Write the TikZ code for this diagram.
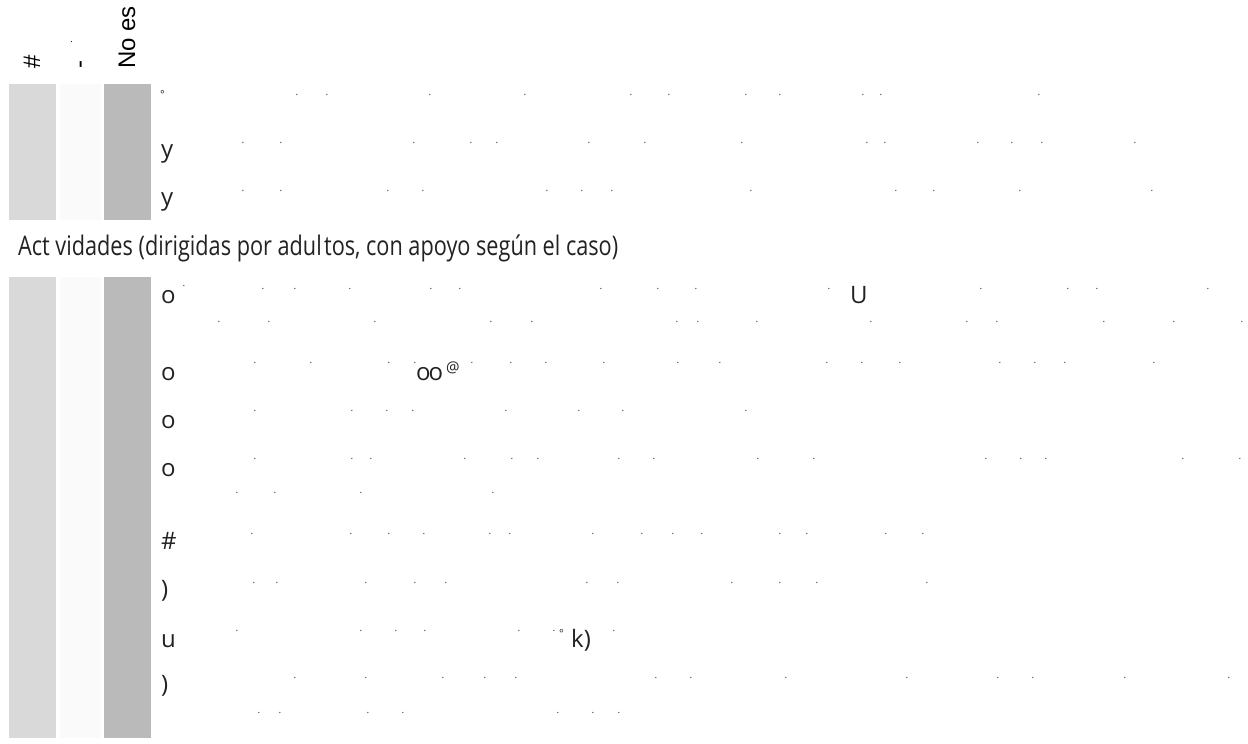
\documentclass[tikz,border=0pt]{standalone}
\usepackage{fontspec}
\usepackage{graphicx}
\setmainfont{Open Sans}
\newfontfamily\hdrfont{Liberation Sans}
\definecolor{barA}{HTML}{D9D9D9}
\definecolor{barB}{HTML}{FAFAFA}
\definecolor{barC}{HTML}{BABABA}
\definecolor{txt}{HTML}{222222}
\definecolor{dotc}{HTML}{333333}
\tikzset{
  hdr/.style={font=\hdrfont\fontsize{24}{24}\selectfont, inner sep=0pt, rotate=90, anchor=base west, text=black},
  hdrsmall/.style={font=\hdrfont\fontsize{10}{10}\selectfont, inner sep=0pt, rotate=90, anchor=base west, text=black},
  body/.style={font=\fontsize{24}{24}\selectfont, inner sep=0pt, anchor=base west, text=txt},
  small/.style={font=\fontsize{11}{11}\selectfont, inner sep=0pt, anchor=base west, text=txt},
  dotst/.style={font=\fontsize{10}{10}\selectfont, inner sep=0pt, anchor=base, text=dotc},
  heading/.style={font=\fontsize{27}{27}\selectfont, inner sep=0pt, anchor=base west, text=txt},
  barone/.style={fill=barA, draw=none},
  bartwo/.style={fill=barB, draw=none},
  barthree/.style={fill=barC, draw=none}
}
\newcommand\dotline[3]{\foreach \xx [count=\ii] in {#3} {\node[dotst, name=#1-\ii] at (\xx,#2+1) {.};}}
\begin{document}
\begin{tikzpicture}[x=1pt,y=-1pt]
\fill[white] (0,0) rectangle (1248,744);
\useasboundingbox (0,0) rectangle (1248,744);
% header
\node[hdr] (hHash) at (40,69) {\#};
\node[hdrsmall] (hDot) at (72,44) {.};
\node[hdr] (hDash) at (87,69) {-};
\node[hdr] (hNoes) at (135,69) {No es};
% block 1 bars
\path[barone] (9,84) rectangle (56,220);
\path[bartwo] (60,84) rectangle (101,220);
\path[barthree] (104,84) rectangle (151,220);
% block 1 rows
\node[small] (r1a) at (160,98) {°};
\dotline{r1}{94}{297,327,430,525,631,669,746,780,863,881,1039}
\node[body] (r2a) at (161,157) {y};
\dotline{r2}{142}{243,281,414,471,497,589,645,742,867,885,978,1012,1042,1135}
\node[body] (r3a) at (161,205) {y};
\dotline{r3}{190}{243,281,388,423,547,582,612,751,896,934,1020,1152}
% heading
\node[heading] (head) at (18,255) {\resizebox{600pt}{\height}{Act vidades (dirigidas por adul\kern3pt tos, con apoyo según el caso)}};
% block 2 bars
\path[barone] (9,277) rectangle (56,738);
\path[bartwo] (60,277) rectangle (101,738);
\path[barthree] (104,277) rectangle (151,738);
% block 2 rows
\node[body] (o1) at (161,303) {o};
\dotline{o1}{285}{184}
\dotline{o1b}{288}{263,295,350,431,460,601,658,696,829,981,1068,1097,1208}
\node[body] (o1U) at (850,303) {U};
\dotline{o1c}{321}{219,269,375,491,532,677,698,757,871,967,997,1104,1174,1242}
\node[body] (o2) at (161,380) {o};
\dotline{o2}{362}{255,311,389,415,472,511,546,604,678,720,827,862,900,1000,1035,1065,1154}
\node[body] (o2oo) at (416,380) {o\kern-2pt o};
\node[small, font=\fontsize{15}{15}\selectfont] (o2at) at (446,372) {@};
\node[body] (o3) at (161,428) {o};
\dotline{o3}{410}{255,352,387,413,506,579,623,746}
\node[body] (o4) at (161,476) {o};
\dotline{o4}{458}{255,352,371,465,512,538,619,654,758,814,986,1021,1046,1183,1240}
\dotline{o4b}{492}{237,275,361,493}
\node[body] (hs) at (161,549) {\#};
\dotline{hs}{533}{252,351,389,424,490,510,593,642,673,702,780,807,886,923}
\node[body] (p1) at (161,597) {)};
\dotline{p1}{582}{254,277,366,415,446,587,618,732,780,817,927}
\node[body] (uu) at (161,647) {u};
\dotline{uu}{630}{237,361,396,425,519,554,614}
\node[small] (uring) at (559,637) {°};
\node[body] (uk) at (571,647) {k)};
\node[body] (p2) at (161,692) {)};
\dotline{p2}{677}{295,366,443,485,516,656,691,786,907,998,1033,1125,1229}
\dotline{p2b}{712}{259,280,368,403,558,593,619}
\end{tikzpicture}
\end{document}
